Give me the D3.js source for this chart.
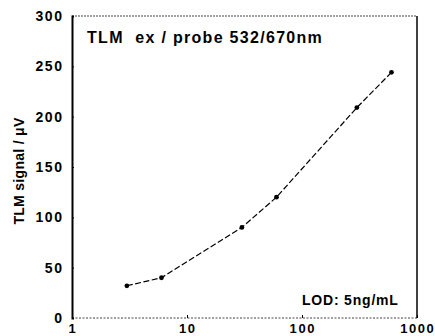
<!DOCTYPE html>
<html><head><meta charset="utf-8">
<script src="https://cdn.jsdelivr.net/npm/d3@7"></script>
<style>body{margin:0;background:#fff}svg{display:block}text{font-family:"Liberation Sans",Arial,sans-serif;font-weight:bold;fill:#000;white-space:pre}</style>
</head><body>
<script>
const concentrations = [3, 6, 30, 60, 300, 600];
const signals = [32, 40, 90, 120, 209, 244];
const yTicks = [0, 50, 100, 150, 200, 250, 300];
const xTicks = [1, 10, 100, 1000];
const titleText = "TLM  ex / probe 532/670nm";
const yAxisLabel = "TLM signal / \u03bcV";
const lodText = "LOD: 5ng/mL";

const W = 435, H = 336;
const m = {l: 72, r: 18, t: 16, b: 18};
const svg = d3.select("body").append("svg").attr("width", W).attr("height", H);
const x = d3.scaleLog().domain([1, 1000]).range([m.l, W - m.r]);
const y = d3.scaleLinear().domain([0, 300]).range([H - m.b, m.t]);

// frame: top and bottom faint, left thick, right medium
svg.append("line").attr("x1", m.l).attr("x2", W - m.r).attr("y1", m.t).attr("y2", m.t)
  .attr("stroke", "#444").attr("stroke-width", 1).attr("stroke-dasharray", "2,1");
svg.append("line").attr("x1", m.l).attr("x2", W - m.r).attr("y1", H - m.b).attr("y2", H - m.b)
  .attr("stroke", "#444").attr("stroke-width", 1).attr("stroke-dasharray", "2,1.5");
svg.append("line").attr("x1", W - m.r).attr("x2", W - m.r).attr("y1", m.t).attr("y2", H - m.b)
  .attr("stroke", "#000").attr("stroke-width", 1.5);

const yAxis = svg.append("g").attr("transform", `translate(${m.l},0)`)
  .call(d3.axisRight(y).tickValues(yTicks).tickSize(2).tickFormat(""));
yAxis.select(".domain").attr("stroke-width", 2);
yAxis.selectAll("line").attr("stroke-width", 1);
const lsT = 1.6;
svg.append("g").selectAll("text").data(yTicks).join("text")
  .attr("x", m.l - 10 + lsT).attr("y", d => y(d)).attr("dy", "0.36em")
  .attr("text-anchor", "end").attr("font-size", 14).attr("letter-spacing", lsT).text(d => d);

const xAxis = svg.append("g").attr("transform", `translate(0,${H - m.b})`)
  .call(d3.axisTop(x).tickValues(xTicks).tickSize(3).tickFormat(""));
xAxis.select(".domain").remove();
svg.append("g").selectAll("text").data(xTicks).join("text")
  .attr("x", d => x(d) + lsT / 2).attr("y", H - 3.5)
  .attr("text-anchor", "middle").attr("font-size", 13).attr("letter-spacing", lsT).text(d => d);

svg.append("text").attr("transform", `translate(24,${(m.t + H - m.b) / 2 + 4}) rotate(-90)`)
  .attr("text-anchor", "middle").attr("font-size", 14).attr("letter-spacing", 0.3).text(yAxisLabel);

const line = d3.line().x(d => x(d[0])).y(d => y(d[1]));
const pts = concentrations.map((c, i) => [c, signals[i]]);
svg.append("path").datum(pts).attr("d", line).attr("fill", "none")
  .attr("stroke", "#000").attr("stroke-width", 1.2).attr("stroke-dasharray", "6,2.5");
svg.append("g").selectAll("circle").data(pts).join("circle")
  .attr("cx", d => x(d[0])).attr("cy", d => y(d[1])).attr("r", 2.4).attr("fill", "#000");

svg.append("text").attr("x", 87).attr("y", 43).attr("font-size", 16).attr("letter-spacing", 1.3).text(titleText);
svg.append("text").attr("x", 302).attr("y", 305).attr("font-size", 14).attr("letter-spacing", 0.8).text(lodText);
</script>
</body></html>
